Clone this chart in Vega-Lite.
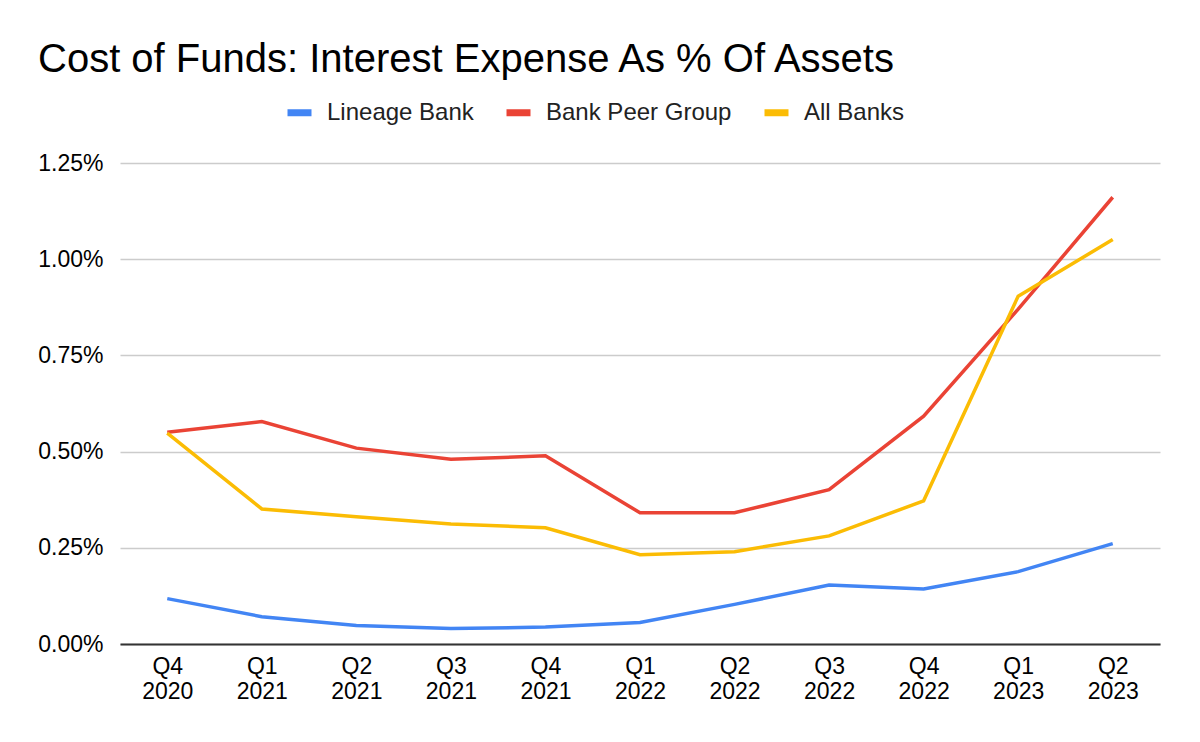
{
  "$schema": "https://vega.github.io/schema/vega-lite/v6.json",
  "width": 1040,
  "height": 481,
  "autosize": {"type": "none"},
  "padding": {"left": 120, "top": 163, "right": 40, "bottom": 98},
  "background": "white",
  "title": {
    "text": "Cost of Funds: Interest Expense As % Of Assets",
    "anchor": "start",
    "frame": "group",
    "dx": -82,
    "offset": 17,
    "font": "Liberation Sans",
    "fontSize": 40,
    "fontWeight": "normal",
    "color": "#000000"
  },
  "data": {
    "values": [
      {"quarter": "Q4 2020", "series": "Lineage Bank", "value": 0.00118},
      {"quarter": "Q1 2021", "series": "Lineage Bank", "value": 0.00071},
      {"quarter": "Q2 2021", "series": "Lineage Bank", "value": 0.00048},
      {"quarter": "Q3 2021", "series": "Lineage Bank", "value": 0.00040},
      {"quarter": "Q4 2021", "series": "Lineage Bank", "value": 0.00044},
      {"quarter": "Q1 2022", "series": "Lineage Bank", "value": 0.00056},
      {"quarter": "Q2 2022", "series": "Lineage Bank", "value": 0.00103},
      {"quarter": "Q3 2022", "series": "Lineage Bank", "value": 0.00153},
      {"quarter": "Q4 2022", "series": "Lineage Bank", "value": 0.00143},
      {"quarter": "Q1 2023", "series": "Lineage Bank", "value": 0.00188},
      {"quarter": "Q2 2023", "series": "Lineage Bank", "value": 0.00261},
      {"quarter": "Q4 2020", "series": "Bank Peer Group", "value": 0.00550},
      {"quarter": "Q1 2021", "series": "Bank Peer Group", "value": 0.00578},
      {"quarter": "Q2 2021", "series": "Bank Peer Group", "value": 0.00509},
      {"quarter": "Q3 2021", "series": "Bank Peer Group", "value": 0.00480},
      {"quarter": "Q4 2021", "series": "Bank Peer Group", "value": 0.00489},
      {"quarter": "Q1 2022", "series": "Bank Peer Group", "value": 0.00341},
      {"quarter": "Q2 2022", "series": "Bank Peer Group", "value": 0.00341},
      {"quarter": "Q3 2022", "series": "Bank Peer Group", "value": 0.00401},
      {"quarter": "Q4 2022", "series": "Bank Peer Group", "value": 0.00592},
      {"quarter": "Q1 2023", "series": "Bank Peer Group", "value": 0.00870},
      {"quarter": "Q2 2023", "series": "Bank Peer Group", "value": 0.01161},
      {"quarter": "Q4 2020", "series": "All Banks", "value": 0.00548},
      {"quarter": "Q1 2021", "series": "All Banks", "value": 0.00351},
      {"quarter": "Q2 2021", "series": "All Banks", "value": 0.00331},
      {"quarter": "Q3 2021", "series": "All Banks", "value": 0.00312},
      {"quarter": "Q4 2021", "series": "All Banks", "value": 0.00302},
      {"quarter": "Q1 2022", "series": "All Banks", "value": 0.00232},
      {"quarter": "Q2 2022", "series": "All Banks", "value": 0.00240},
      {"quarter": "Q3 2022", "series": "All Banks", "value": 0.00281},
      {"quarter": "Q4 2022", "series": "All Banks", "value": 0.00372},
      {"quarter": "Q1 2023", "series": "All Banks", "value": 0.00904},
      {"quarter": "Q2 2023", "series": "All Banks", "value": 0.01051}
    ]
  },
  "mark": {"type": "line", "strokeWidth": 3.5},
  "encoding": {
    "x": {
      "field": "quarter",
      "type": "ordinal",
      "sort": null,
      "scale": {"type": "point", "padding": 0.5},
      "axis": {
        "title": null,
        "labelAngle": 0,
        "labelExpr": "split(datum.label, ' ')",
        "labelLineHeight": 25,
        "labelPadding": 11,
        "ticks": false,
        "grid": false,
        "domain": true,
        "domainColor": "#333333",
        "domainWidth": 2
      }
    },
    "y": {
      "field": "value",
      "type": "quantitative",
      "scale": {"domain": [0, 0.0125]},
      "axis": {
        "title": null,
        "format": ".2%",
        "values": [0, 0.0025, 0.005, 0.0075, 0.01, 0.0125],
        "ticks": false,
        "domain": false,
        "labelPadding": 17,
        "gridColor": "#cccccc",
        "gridWidth": 1.5
      }
    },
    "color": {
      "field": "series",
      "type": "nominal",
      "scale": {
        "domain": ["Lineage Bank", "Bank Peer Group", "All Banks"],
        "range": ["#4285F4", "#EA4335", "#FBBC04"]
      },
      "legend": {
        "title": null,
        "orient": "none",
        "direction": "horizontal",
        "legendX": 164,
        "legendY": -66,
        "symbolType": "M-1,0L1,0",
        "symbolSize": 576,
        "symbolStrokeWidth": 7,
        "labelOffset": 12,
        "columnPadding": 18,
        "labelFont": "Liberation Sans",
        "labelFontSize": 24,
        "labelColor": "#222222",
        "labelLimit": 400
      }
    }
  },
  "config": {
    "view": {"stroke": null},
    "axis": {
      "labelFont": "Liberation Sans",
      "labelFontSize": 23,
      "labelColor": "#000000"
    }
  }
}
